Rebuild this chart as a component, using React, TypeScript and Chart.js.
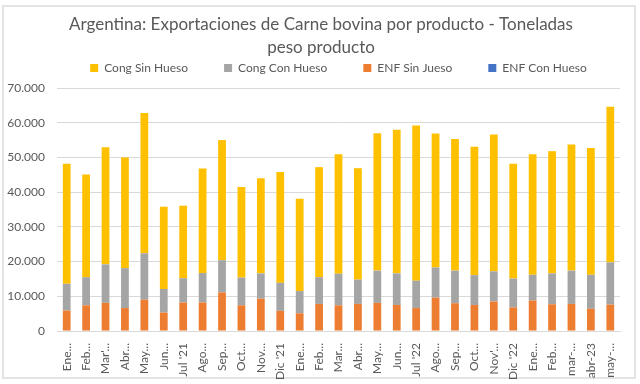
import React, { useEffect, useRef } from "react";
import { Chart, registerables } from "chart.js";

Chart.register(...registerables);

const categories = [
  "Ene...", "Feb...", "Mar'...", "Abr...", "May...", "Jun...", "Jul '21", "Ago...", "Sep...", "Oct...", "Nov...", "Dic '21",
  "Ene...", "Feb...", "Mar...", "Abr...", "May...", "Jun...", "Jul '22", "Ago...", "Sep...", "Oct...", "Nov'...", "Dic '22",
  "Ene...", "Feb...", "mar-...", "abr-23", "may-...",
];

const enfSinJueso = [5900, 7400, 8100, 6600, 9000, 5300, 8200, 8200, 11100, 7400, 9300, 5800, 5100, 7800, 7400, 7800, 8100, 7500, 6600, 9600, 8000, 7500, 8500, 6800, 8800, 7700, 7800, 6400, 7600];
const congConHueso = [7700, 8100, 11100, 11500, 13400, 6800, 7000, 8500, 9300, 8000, 7300, 8100, 6400, 7700, 9100, 7000, 9300, 9100, 7900, 8700, 9400, 8600, 8700, 8300, 7400, 8900, 9600, 9800, 12200];
const congSinHueso = [34600, 29600, 33700, 31900, 40400, 23700, 20900, 30100, 34600, 26100, 27400, 31900, 26600, 31700, 34400, 32100, 39600, 41400, 44700, 38600, 37900, 37000, 39400, 33100, 34700, 35200, 36300, 36500, 44800];
const enfConHueso = [0, 0, 0, 0, 0, 0, 0, 0, 0, 0, 0, 0, 0, 0, 0, 0, 0, 0, 0, 0, 0, 0, 0, 0, 0, 0, 0, 0, 0];

const titleLines = ["Argentina: Exportaciones de Carne bovina por producto - Toneladas", "peso producto"];
const yMin = 0;
const yMax = 70000;
const yStep = 10000;

const TEXT = "#595959";
const FONT = "Lato";

const fmt = (v: number) => String(v).replace(/\B(?=(\d{3})+(?!\d))/g, ".");

const placePlugin = {
  id: "placeTitleLegend",
  afterLayout(chart: any) {
    const t = chart.titleBlock;
    if (t) {
      t.left = 2;
      t.right = 640;
      t.width = 638;
    }
    const l = chart.legend;
    if (l) {
      const ca = chart.chartArea;
      const c = (ca.left + ca.right) / 2;
      l.left = c - 340;
      l.right = c + 340;
      l.width = 680;
      l.top = 26;
      l.bottom = 84;
      l.height = 58;
    }
  },
};

export default function App() {
  const ref = useRef<HTMLCanvasElement | null>(null);

  useEffect(() => {
    if (!ref.current) return;
    const chart = new Chart(ref.current, {
      type: "bar",
      data: {
        labels: categories,
        datasets: [
          { label: "ENF Con Hueso", data: enfConHueso, backgroundColor: "#4472C4", barPercentage: 0.4, categoryPercentage: 1 },
          { label: "ENF Sin Jueso", data: enfSinJueso, backgroundColor: "#ED7D31", barPercentage: 0.4, categoryPercentage: 1 },
          { label: "Cong Con Hueso", data: congConHueso, backgroundColor: "#A5A5A5", barPercentage: 0.4, categoryPercentage: 1 },
          { label: "Cong Sin Hueso", data: congSinHueso, backgroundColor: "#FFC000", barPercentage: 0.4, categoryPercentage: 1 },
        ],
      },
      options: {
        responsive: false,
        animation: false,
        layout: { padding: { left: 0, right: 20, top: 0, bottom: 0 } },
        plugins: {
          title: {
            display: true,
            text: titleLines,
            color: TEXT,
            font: { family: FONT, size: 17, weight: "normal", lineHeight: 1.353 },
            padding: { top: 13.5, bottom: 0 },
          },
          legend: {
            display: true,
            position: "top",
            reverse: true,
            maxHeight: 28.5,
            labels: {
              boxWidth: 8,
              boxHeight: 8,
              padding: 36,
              color: TEXT,
              font: { family: FONT, size: 12 },
            },
          },
          tooltip: { enabled: false },
        },
        scales: {
          x: {
            stacked: true,
            grid: { display: false },
            border: { display: true, color: "#d9d9d9" },
            ticks: {
              autoSkip: false,
              maxRotation: 90,
              minRotation: 90,
              padding: 4,
              color: TEXT,
              font: { family: FONT, size: 12 },
            },
            afterFit: (s: any) => {
              s.height = 53;
            },
          },
          y: {
            stacked: true,
            min: yMin,
            max: yMax,
            border: { display: false },
            grid: { color: "#d9d9d9", drawTicks: false },
            ticks: {
              stepSize: yStep,
              padding: 12,
              color: TEXT,
              font: { family: FONT, size: 12 },
              callback: (v: any) => fmt(Number(v)),
            },
            afterFit: (s: any) => {
              s.width = 57;
            },
          },
        },
      },
      plugins: [placePlugin],
    });
    return () => chart.destroy();
  }, []);

  return (
    <div style={{ position: "absolute", left: 0, top: 0, width: 640, height: 384, background: "#ffffff" }}>
      <div
        style={{
          position: "absolute",
          left: 2,
          top: 5,
          width: 634,
          height: 374,
          boxSizing: "border-box",
          border: "2px solid #e4e4e4",
        }}
      />
      <canvas ref={ref} width={640} height={384} style={{ position: "absolute", left: 0, top: 0 }} />
    </div>
  );
}
